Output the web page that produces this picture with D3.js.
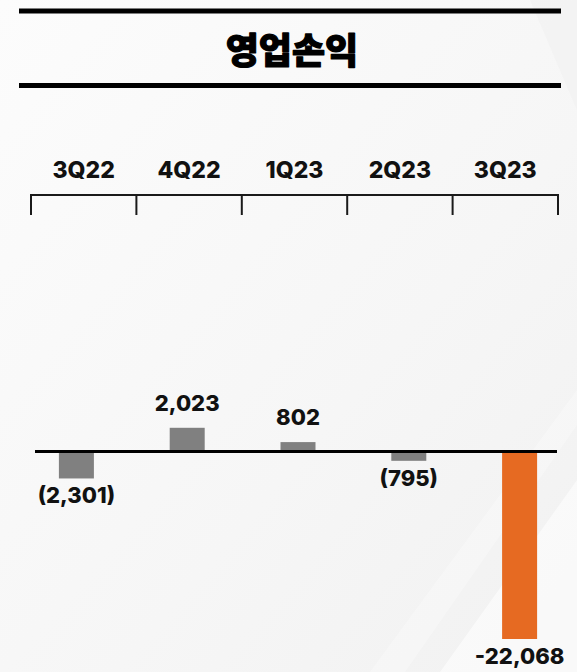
<!DOCTYPE html>
<html>
<head>
<meta charset="utf-8">
<script src="https://cdn.jsdelivr.net/npm/d3@7"></script>
<style>
  html, body { margin: 0; padding: 0; background: #f6f6f6; }
  svg { display: block; }
</style>
</head>
<body>
<div id="chart"></div>
<script>
// ---- data ----
const title = "영업손익";
const categories = ["3Q22", "4Q22", "1Q23", "2Q23", "3Q23"];
const values = [-2301, 2023, 802, -795, -22068];
const valueLabels = ["(2,301)", "2,023", "802", "(795)", "-22,068"];
const highlight = [false, false, false, false, true];

const W = 577, H = 672;
const svg = d3.select("#chart").append("svg").attr("width", W).attr("height", H);

// background
const defs = svg.append("defs");
const g1 = defs.append("linearGradient").attr("id", "bg").attr("x1", 0).attr("y1", 0).attr("x2", 1).attr("y2", 1);
g1.append("stop").attr("offset", 0).attr("stop-color", "#fcfcfc");
g1.append("stop").attr("offset", 0.6).attr("stop-color", "#f6f6f6");
g1.append("stop").attr("offset", 1).attr("stop-color", "#f1f1f1");
svg.append("rect").attr("width", W).attr("height", H).attr("fill", "url(#bg)");
// subtle diagonal light bands
svg.append("path").attr("d", "M440,672 L577,480 L577,672 Z").attr("fill", "#ffffff").attr("opacity", 0.55);
svg.append("path").attr("d", "M370,672 L577,390 L577,425 L405,672 Z").attr("fill", "#ffffff").attr("opacity", 0.3);
svg.append("path").attr("d", "M530,0 L577,0 L577,110 Z").attr("fill", "#efefef").attr("opacity", 0.5);

// title with rules
svg.append("rect").attr("x", 19).attr("y", 8.5).attr("width", 542).attr("height", 5).attr("fill", "#000");
svg.append("rect").attr("x", 19).attr("y", 83).attr("width", 542).attr("height", 5).attr("fill", "#000");
svg.append("text").attr("x", 292).attr("y", 48)
  .attr("text-anchor", "middle").attr("dominant-baseline", "central")
  .style("font-family", "'Noto Sans CJK KR', sans-serif").style("font-weight", 900)
  .style("font-size", "36px").attr("fill", "#000")
  .attr("stroke", "#000").attr("stroke-width", 1.2).attr("stroke-linejoin", "round")
  .text(title);

// category header scale (bracket)
const xHead = d3.scaleBand().domain(categories).range([31, 558]).padding(0);
const head = svg.append("g");
head.selectAll("text.cat").data(categories).join("text")
  .attr("class", "cat")
  .attr("x", d => xHead(d) + xHead.bandwidth() / 2)
  .attr("y", 178)
  .attr("text-anchor", "middle")
  .style("font-family", "Inter, sans-serif").style("font-weight", 800)
  .style("font-size", "23px").attr("fill", "#111").text(d => d);
head.append("line").attr("x1", 30).attr("x2", 559).attr("y1", 195).attr("y2", 195)
  .attr("stroke", "#1a1a1a").attr("stroke-width", 2);
const tickXs = categories.map(c => xHead(c)).concat([xHead.range()[1]]);
head.selectAll("line.tk").data(tickXs).join("line").attr("class", "tk")
  .attr("x1", d => d).attr("x2", d => d).attr("y1", 194).attr("y2", 215)
  .attr("stroke", "#1a1a1a").attr("stroke-width", 2);

// bar scales (value axis is broken: bars longer than the panel are clamped)
const xBar = d3.scalePoint().domain(categories).range([21, 575]).padding(0.5);
const y = d3.scaleLinear().domain([-16000, 16000]).range([639, 264]).clamp(true);
const barW = 35;

const bars = svg.append("g");
bars.selectAll("rect").data(values).join("rect")
  .attr("x", (d, i) => xBar(categories[i]) - barW / 2)
  .attr("y", d => Math.min(y(d), y(0)))
  .attr("width", barW)
  .attr("height", d => Math.abs(y(d) - y(0)))
  .attr("fill", (d, i) => highlight[i] ? "#e66a22" : "#808080");

// zero line
svg.append("rect").attr("x", 35).attr("y", y(0) - 1.5).attr("width", 522).attr("height", 3).attr("fill", "#000");

// value labels
svg.append("g").selectAll("text").data(values).join("text")
  .attr("x", (d, i) => xBar(categories[i]))
  .attr("y", d => d >= 0 ? y(d) - 17 : y(d) + 25)
  .attr("text-anchor", "middle")
  .style("font-family", "Inter, sans-serif").style("font-weight", 800)
  .style("font-size", "22px").attr("fill", "#111")
  .text((d, i) => valueLabels[i]);
</script>
</body>
</html>
